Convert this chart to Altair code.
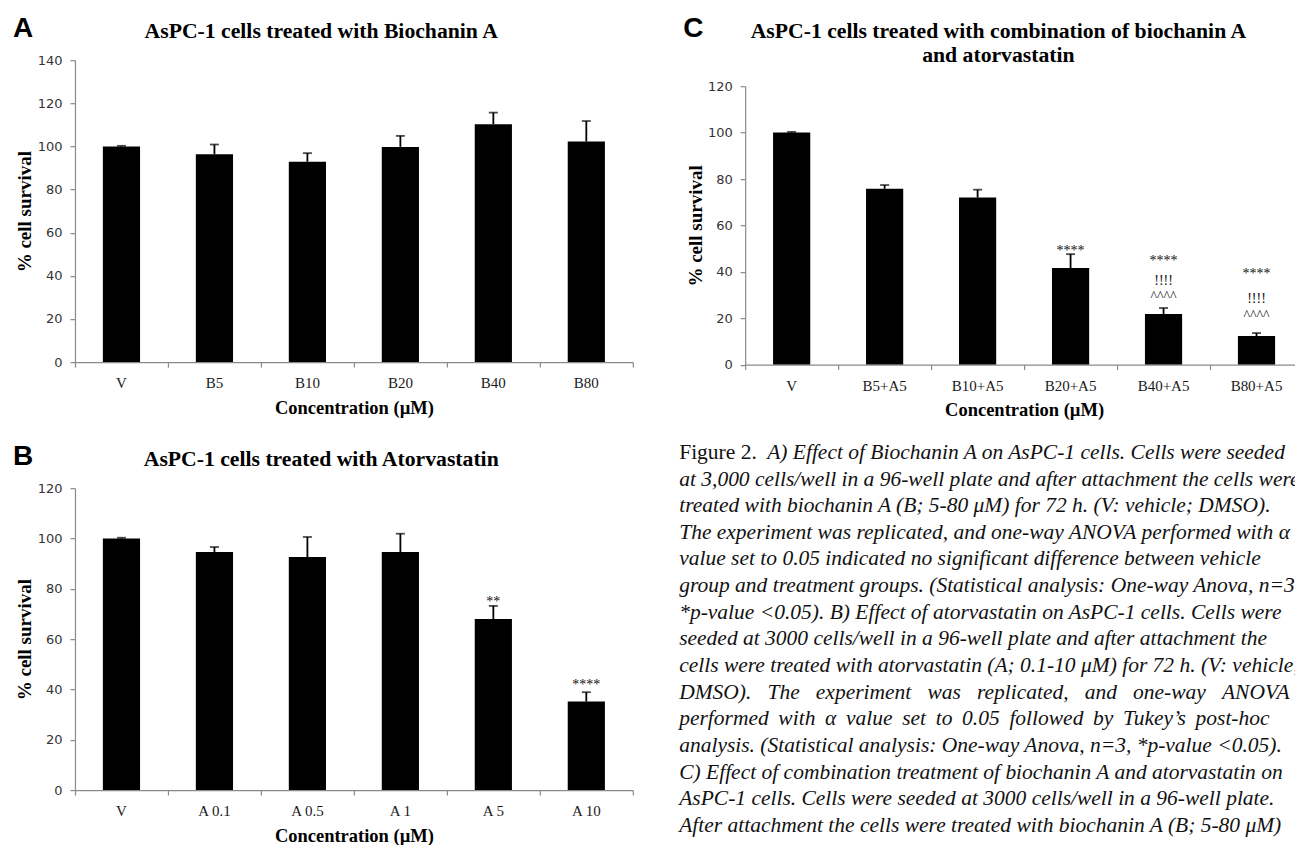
import altair as alt
import pandas as pd

# ---------------- data ----------------
a_cats = ["V", "B5", "B10", "B20", "B40", "B80"]
a_vals = [100.0, 96.4, 92.9, 99.8, 110.3, 102.3]
a_errs = [0.3, 4.5, 4.0, 5.1, 5.4, 9.5]

b_cats = ["V", "A 0.1", "A 0.5", "A 1", "A 5", "A 10"]
b_vals = [100.0, 94.6, 92.6, 94.6, 68.0, 35.2]
b_errs = [0.3, 2.0, 8.0, 7.3, 5.2, 3.7]

c_cats = ["V", "B5+A5", "B10+A5", "B20+A5", "B40+A5", "B80+A5"]
c_vals = [100.0, 75.8, 72.0, 41.6, 21.8, 12.3]
c_errs = [0.3, 1.6, 3.4, 6.0, 2.6, 1.3]

b_sig_cats = ["A 5", "A 10"]
b_sig_y = [75.4, 42.4]
b_sig_text = ["**", "****"]

c_sig_cats = ["B20+A5", "B40+A5", "B40+A5", "B40+A5", "B80+A5", "B80+A5", "B80+A5"]
c_sig_y = [50.0, 45.7, 36.7, 29.8, 40.1, 29.3, 21.6]
c_sig_text = ["****", "****", "!!!!", "^^^^", "****", "!!!!", "^^^^"]

a_ticks = [0, 20, 40, 60, 80, 100, 120, 140]
bc_ticks = [0, 20, 40, 60, 80, 100, 120]

title_a = "AsPC-1 cells treated with Biochanin A"
title_b = "AsPC-1 cells treated with Atorvastatin"
title_c = ["AsPC-1 cells treated with combination of biochanin A", "and atorvastatin"]
x_title = "Concentration (µM)"
y_title = "% cell survival"

caption_prefix = "Figure 2."
caption_lines = [
    "A) Effect of Biochanin A on AsPC-1 cells. Cells were seeded",
    "at 3,000 cells/well in a 96-well plate and after attachment the cells were",
    "treated with biochanin A (B; 5-80 \u03bcM) for 72 h. (V: vehicle; DMSO).",
    "The experiment was replicated, and one-way ANOVA performed with \u03b1",
    "value set to 0.05 indicated no significant difference between vehicle",
    "group and treatment groups. (Statistical analysis: One-way Anova, n=3,",
    "*p-value <0.05). B) Effect of atorvastatin on AsPC-1 cells. Cells were",
    "seeded at 3000 cells/well in a 96-well plate and after attachment the",
    "cells were treated with atorvastatin (A; 0.1-10 \u03bcM) for 72 h. (V: vehicle;",
    "DMSO). \u2002The \u2002experiment \u2002was \u2002replicated, \u2002and \u2002one-way \u2002ANOVA",
    "performed \u2009with \u2009\u03b1 \u2009value \u2009set \u2009to \u20090.05 \u2009followed \u2009by \u2009Tukey\u2019s \u2009post-hoc",
    "analysis. (Statistical analysis: One-way Anova, n=3, *p-value <0.05).",
    "C) Effect of combination treatment of biochanin A and atorvastatin on",
    "AsPC-1 cells. Cells were seeded at 3000 cells/well in a 96-well plate.",
    "After attachment the cells were treated with biochanin A (B; 5-80 \u03bcM)",
]

# ---------------- styling ----------------
SERIF = "Liberation Serif"
LETTER_FONT = "Liberation Sans"
GRAY = "#8a8a8a"
PLOT_W = 558


def panel(letter, title, cats, vals, errs, ticks, height, letter_dy,
          title_offset, title_dx, x_title_y, y_top=0, sig=None):
    ymax = ticks[-1]
    df = pd.DataFrame({"cat": cats, "val": vals,
                       "hi": [v + e for v, e in zip(vals, errs)]})
    xscale = alt.Scale(domain=cats, paddingInner=0, paddingOuter=0)
    xaxis = alt.Axis(
        title=x_title, titleFont=SERIF, titleFontSize=18.5, titleFontWeight="bold",
        titleColor="black", titleY=x_title_y,
        labelFont=SERIF, labelFontSize=15, labelColor="#1a1a1a", labelAngle=0,
        labelPadding=8.5, tickSize=5, tickColor=GRAY, tickWidth=1.2,
        domainColor=GRAY, domainWidth=1.2, bandPosition=1, tickExtra=True,
        grid=False,
    )
    yscale = alt.Scale(domain=[0, ymax], nice=False, zero=True, range=[height, y_top])
    yaxis = alt.Axis(
        title=y_title, titleFont=SERIF, titleFontSize=19, titleFontWeight="bold",
        titleColor="black", titleX=-40,
        values=ticks, labelFont="DejaVu Sans", labelFontSize=13, labelColor="#333333",
        labelPadding=8, tickSize=5, tickColor=GRAY, tickWidth=1.2,
        domainColor=GRAY, domainWidth=1.2, grid=False,
    )

    def X():
        return alt.X("cat:N", sort=cats, scale=xscale, axis=xaxis)

    def Y(f):
        return alt.Y(f, type="quantitative", scale=yscale, axis=yaxis)

    base = alt.Chart(df)
    bars = base.mark_bar(color="black", width=alt.RelativeBandSize(0.4)).encode(
        x=X(), y=Y("val"))
    stems = base.mark_rule(color="black", strokeWidth=1.8).encode(
        x=X(), y=Y("val"), y2="hi:Q")
    caps = base.mark_tick(color="black", size=9, thickness=1.8).encode(
        x=X(), y=Y("hi"))
    layers = [bars, stems, caps]
    if sig is not None:
        sdf = pd.DataFrame({"cat": sig[0], "sy": sig[1], "txt": sig[2]})
        layers.append(
            alt.Chart(sdf).mark_text(font=SERIF, fontSize=14, baseline="middle",
                                     dy=2, color="#111111").encode(
                x=X(), y=Y("sy"), text="txt:N"))
    ldf = pd.DataFrame({"t": [letter]})
    layers.append(
        alt.Chart(ldf).mark_text(font=LETTER_FONT, fontWeight="bold", fontSize=28,
                                 align="left", baseline="alphabetic", dx=-62,
                                 dy=letter_dy, color="black").encode(
            x=alt.value(0), y=alt.value(0), text="t:N"))
    return alt.layer(*layers).properties(
        width=PLOT_W, height=height,
        title=alt.TitleParams(text=title, font=SERIF, fontSize=21.7, fontWeight="bold",
                              color="black", anchor="middle", frame="bounds",
                              offset=title_offset, dx=title_dx, lineHeight=24),
    )


pa = panel("A", title_a, a_cats, a_vals, a_errs, a_ticks, 302, -23, -27.3, -2, 36)
pb = panel("B", title_b, b_cats, b_vals, b_errs, bc_ticks, 302, -23, -27.3, -2, 36,
           sig=(b_sig_cats, b_sig_y, b_sig_text))
pc = panel("C", title_c, c_cats, c_vals, c_errs, bc_ticks, 304.5, -23, -51.7, 5, 35.5,
           y_top=26, sig=(c_sig_cats, c_sig_y, c_sig_text))

# ---------------- caption ----------------
CAP_X = -66                     # caption starts left of panel C's plot area
CAP_RIGHT = PLOT_W              # text may run to the end of panel C's axis
n = len(caption_lines)
cap_df = pd.DataFrame({"line": list(range(n)), "txt": caption_lines})
cap_y = alt.Y("line:Q", scale=alt.Scale(domain=[0, n - 1], reverse=True, nice=False,
                                        zero=False), axis=None)
common = dict(font=SERIF, fontSize=21.5, align="left", baseline="middle",
              color="#111111", ellipsis="\u200b")
prefix = alt.Chart(pd.DataFrame({"line": [0], "txt": [caption_prefix]})).mark_text(
    dx=CAP_X, **common).encode(x=alt.value(0), y=cap_y, text="txt:N")
first_line = alt.Chart(cap_df.iloc[:1]).mark_text(
    dx=22, fontStyle="italic", limit=CAP_RIGHT - 22, **common).encode(
    x=alt.value(0), y=cap_y, text="txt:N")
other_lines = alt.Chart(cap_df.iloc[1:]).mark_text(
    dx=CAP_X, fontStyle="italic", limit=CAP_RIGHT - CAP_X, **common).encode(
    x=alt.value(0), y=cap_y, text="txt:N")
caption = alt.layer(prefix, first_line, other_lines).properties(
    width=PLOT_W - 20, height=373)

left = alt.vconcat(pa, pb, spacing=26.1)
right = alt.vconcat(pc, caption, spacing=22.8)
# the figure is cropped at its right edge (through panel C and the caption):
# a negative right padding makes the page end at 1295 px
chart = (
    alt.hconcat(left, right, spacing=45.4)
    .properties(padding={"left": 13, "top": 15.1, "right": -8.6, "bottom": 0})
    .configure_view(stroke=None)
)

chart.save("out.html", embed_options={"renderer": "svg", "actions": False})
